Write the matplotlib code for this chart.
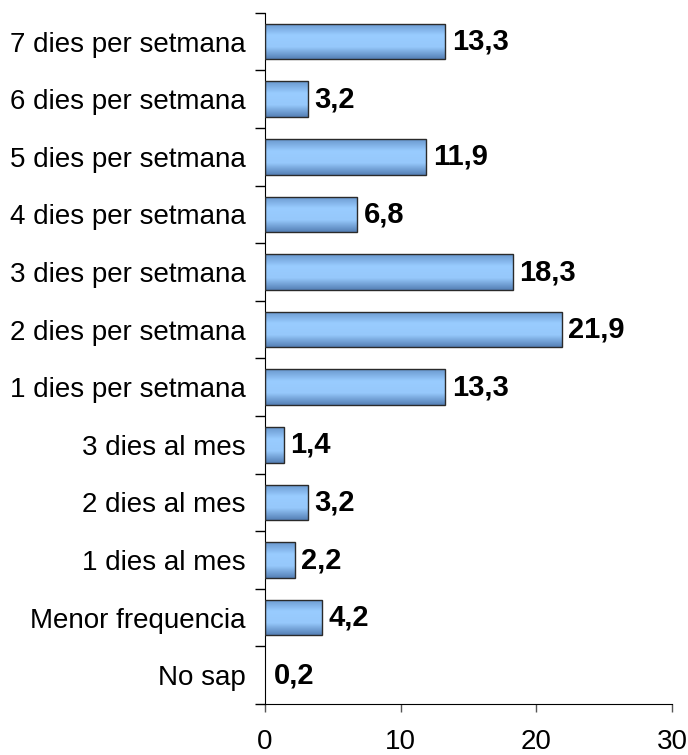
import matplotlib.pyplot as plt
import numpy as np
from matplotlib.colors import LinearSegmentedColormap

plt.rcParams['font.family'] = ['Liberation Sans', 'DejaVu Sans']

categories = ['No sap', 'Menor frequencia', '1 dies al mes', '2 dies al mes',
              '3 dies al mes', '1 dies per setmana', '2 dies per setmana',
              '3 dies per setmana', '4 dies per setmana', '5 dies per setmana',
              '6 dies per setmana', '7 dies per setmana']
values = [0.2, 4.2, 2.2, 3.2, 1.4, 13.3, 21.9, 18.3, 6.8, 11.9, 3.2, 13.3]
labels = ['0,2', '4,2', '2,2', '3,2', '1,4', '13,3', '21,9', '18,3', '6,8', '11,9', '3,2', '13,3']

fig = plt.figure(figsize=(6.88, 7.55), dpi=100)
ax = fig.add_axes([0.385, 0.0675, 0.592, 0.9155])

cmap = LinearSegmentedColormap.from_list('bar', ['#6a98cf', '#99ccff', '#96c8fb', '#5580b6'])
grad = np.linspace(0, 1, 64).reshape(-1, 1)
h = 0.62
y = np.arange(len(categories))

bars = ax.barh(y, values, height=h, color='none', edgecolor='#2a2a2a', linewidth=1, zorder=3)
for b, v in zip(bars, values):
    if v <= 0.3:
        b.set_visible(False)
        continue
    x0, y0 = b.get_x(), b.get_y()
    im = ax.imshow(grad, cmap=cmap, aspect='auto', origin='upper',
                   extent=[x0, x0 + b.get_width(), y0, y0 + b.get_height()], zorder=2)
    im.set_clip_path(b)

for yi, v, lab in zip(y, values, labels):
    ax.annotate(lab, (v, yi), xytext=(4.5, 0), textcoords='offset points',
                ha='left', va='center', fontsize=21, fontweight='bold')

ax.set_xlim(0, 30)
ax.set_ylim(-0.5, len(categories) - 0.5)
ax.set_xticks([0, 10, 20, 30])
ax.tick_params(axis='x', labelsize=20, length=6, width=1, color='#555555', pad=12)
ax.set_yticks(np.arange(-0.5, len(categories), 1))
ax.set_yticklabels([])
ax.set_yticks(y, minor=True)
ax.set_yticklabels(categories, minor=True)
ax.tick_params(axis='y', which='major', length=7, width=1)
ax.tick_params(axis='y', which='minor', length=0, labelsize=20, pad=14)

for s in ['top', 'right']:
    ax.spines[s].set_visible(False)

fig.savefig('out.png', dpi=100)
